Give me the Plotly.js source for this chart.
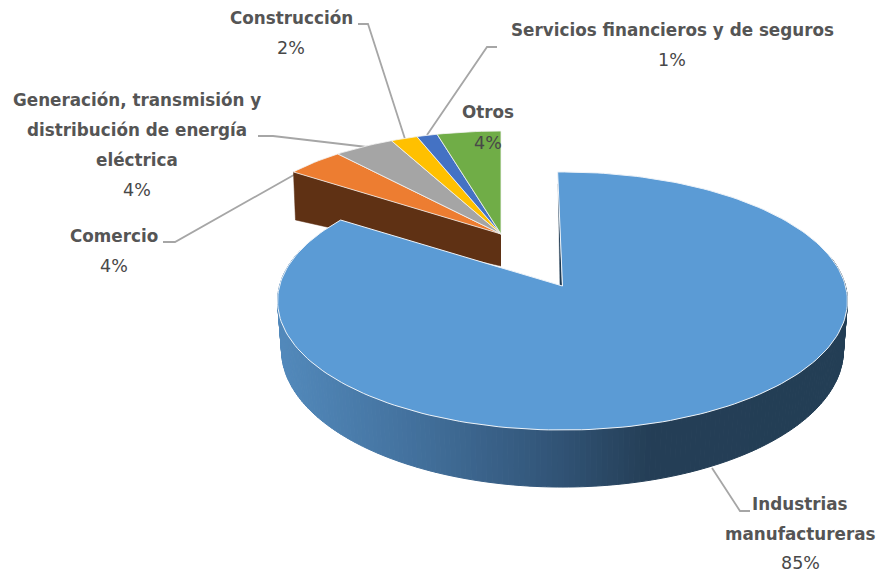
<!DOCTYPE html>
<html><head><meta charset="utf-8">
<script src="https://cdn.plot.ly/plotly-3.0.1.min.js"></script>
<style>html,body{margin:0;padding:0;background:#fff}</style></head>
<body><div id="chart" style="width:877px;height:574px"></div>
<script>
// DATA (share of total, %), order is clockwise from the large slice
const categories = ["Industrias manufactureras","Comercio","Generación, transmisión y distribución de energía eléctrica","Construcción","Servicios financieros y de seguros","Otros"];
const shares = [84.6, 3.9, 3.9, 1.7, 1.3, 4.0];
const sliceColors = ["#5B9BD5","#ED7D31","#A5A5A5","#FFC000","#4472C4","#70AD47"];

// Label text lines per category
const labelLines = [
  ["Industrias","manufactureras"],
  ["Comercio"],
  ["Generación, transmisión y","distribución de energía","eléctrica"],
  ["Construcción"],
  ["Servicios financieros y de seguros"],
  ["Otros"]
];
// Label anchor (centre x, first line y)
const labelX = [800,114,137,291,672,488];
const labelY = [504,236,100,18,30,112];
const labelStep = [30,30,30,30,30,31];
// Leader line paths
const leaderX = [[750,740,712],[163,175,315],[258,273,367],[358,368,405],[497,487,427],[]];
const leaderY = [[511,511,468],[242,242,163],[136,136,147],[24,24,139],[47,47,135],[]];

// Projection of the tilted disc
const big = {cx:562.5, cy:286, rx:283, a:127.3, k:0.1163, rot:-1.1};
const small = {cx:501, cy:234, rx:262, a:105, k:0.02, rot:0};
function proj(d, deg, r){
  r = r===undefined ? 1 : r;
  const t = deg*Math.PI/180, X = r*Math.sin(t), Y = r*Math.cos(t), s = 1/(1+d.k*Y);
  return [d.cx + d.rx*X*s, d.cy - d.a*Y*s];
}
function arc(d, a0, a1){
  const n = Math.max(2, Math.ceil(Math.abs(a1-a0)/1.5)), pts = [];
  for(let i=0;i<=n;i++) pts.push(proj(d, a0+(a1-a0)*i/n));
  return pts;
}
function poly(pts, fill, line, width){
  return {type:"scatter", mode:"lines", x:pts.map(p=>p[0]), y:pts.map(p=>p[1]),
    fill:"toself", fillcolor:fill, line:{color:line||fill, width:width===undefined?1:width},
    hoverinfo:"skip", showlegend:false};
}
// lower rim of the large slice
function lower(p){ return [big.cx + (p[0]-big.cx)*0.986, 350 + (p[1]-301)*137/129]; }

const shadeStops = [[279,[82,137,187]],[400,[68,115,160]],[550,[50,85,120]],[650,[36,62,86]],[850,[35,62,85]]];
function shade(x){
  for(let i=0;i<shadeStops.length-1;i++){
    const [x0,c0]=shadeStops[i],[x1,c1]=shadeStops[i+1];
    if(x<=x1){ const t=Math.max(0,(x-x0)/(x1-x0));
      return "rgb("+c0.map((v,j)=>Math.round(v+(c1[j]-v)*t)).join(",")+")"; }
  }
  return "rgb(35,62,85)";
}

const traces = [];
// leader lines
leaderX.forEach((xs,i)=>{ if(xs.length) traces.push({type:"scatter",mode:"lines",x:xs,y:leaderY[i],
  line:{color:"#A6A6A6",width:1.8},hoverinfo:"skip",showlegend:false}); });

// small slices: wall, then tops; they close at the top of the disc
const toDeg = v=>v*3.6;
const smallTotal = shares.slice(1).reduce((a,b)=>a+b,0);
let cum = 100-smallTotal;
const oOuter = proj(small, toDeg(cum));
traces.push(poly([[small.cx,small.cy],oOuter,[oOuter[0]+2,oOuter[1]+48],[small.cx,small.cy+32]],"#5F3114","#5F3114",0.5));
for(let i=1;i<shares.length;i++){
  const a0=toDeg(cum), a1=toDeg(cum+shares[i]);
  traces.push(poly([[small.cx,small.cy]].concat(arc(small,a0,a1)).concat([[small.cx,small.cy]]),sliceColors[i],"#F4F4F4",0.8));
  cum+=shares[i];
}

// large slice: outer wall as shaded strips, inner wall sliver, top
const step=1;
for(let a=78;a<288;a+=step){
  const p0=proj(big,a+big.rot), p1=proj(big,a+step+big.rot);
  const q0=lower(p0), q1=lower(p1);
  const col=shade((p0[0]+p1[0])/2);
  traces.push(poly([p0,p1,q1,q0,p0],col,col,1));
}
const bigStart=big.rot, bigEnd=big.rot+toDeg(shares[0]);
const e0=proj(big,bigStart,0.885), e1=proj(big,bigStart,0);
traces.push(poly([e0,e1,[e1[0]-0.5,e1[1]+1],[e1[0]-2.6,e1[1]-1],e0],"#1F3A52","#1F3A52",0.3));
traces.push(poly([[big.cx,big.cy]].concat(arc(big,bigStart,bigEnd)).concat([[big.cx,big.cy]]),sliceColors[0],"#EDF3F9",1));

// labels
const annotations=[];
const fontFam='"DejaVu Sans", sans-serif';
categories.forEach((c,i)=>{
  const lines=labelLines[i].concat([Math.round(shares[i])+"%"]);
  lines.forEach((t,j)=>{
    const pct = j===lines.length-1;
    annotations.push({xref:"x",yref:"y",x:labelX[i],y:labelY[i]+j*labelStep[i]-(i===0&&pct?1:0),
      text:t,showarrow:false,xanchor:"center",yanchor:"middle",borderpad:0,
      font:{family:fontFam,size:pct?17.5:16.8,color:pct?"#484848":"#555555",weight:pct?400:700}});
  });
});

Plotly.newPlot("chart",traces,{
  width:877,height:574,margin:{l:0,r:0,t:0,b:0},paper_bgcolor:"#fff",plot_bgcolor:"#fff",showlegend:false,
  xaxis:{range:[0,877],visible:false,fixedrange:true},
  yaxis:{range:[574,0],visible:false,fixedrange:true},
  annotations:annotations
},{displayModeBar:false,staticPlot:true});
</script></body></html>
